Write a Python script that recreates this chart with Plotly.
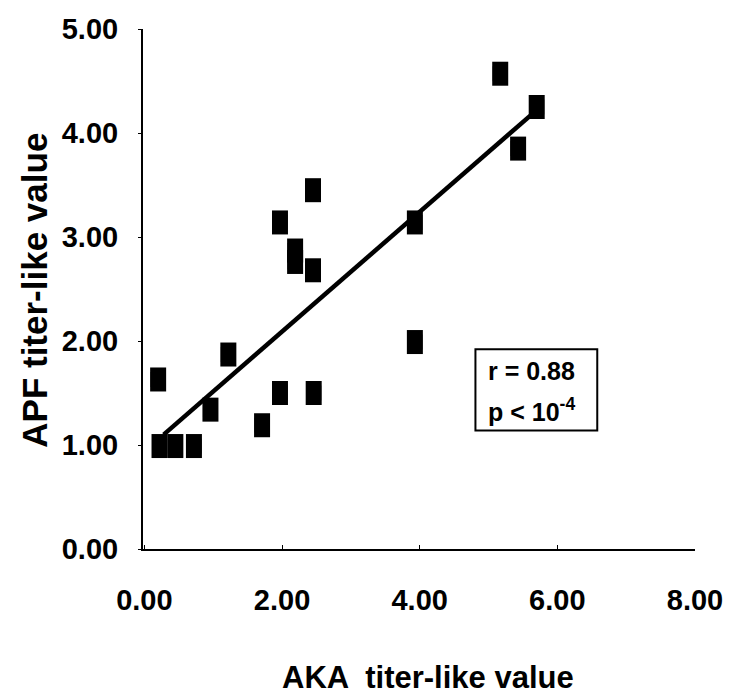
import plotly.graph_objects as go

# Data
aka = [0.20, 0.22, 0.45, 0.72, 0.96, 1.22, 1.71, 1.97, 2.46, 2.45, 1.97, 2.19, 2.19, 2.45, 3.93, 3.93, 5.17, 5.70, 5.43]
apf = [1.63, 0.99, 0.99, 0.99, 1.34, 1.87, 1.19, 1.50, 1.50, 3.45, 3.14, 2.87, 2.76, 2.68, 3.14, 1.99, 4.57, 4.25, 3.85]
fit_x = [0.28, 5.70]
fit_y = [1.10, 4.22]
x_ticks = [0, 2, 4, 6, 8]
x_tick_labels = ["<b>0.00</b>", "<b>2.00</b>", "<b>4.00</b>", "<b>6.00</b>", "<b>8.00</b>"]
y_ticks = [0, 1, 2, 3, 4, 5]
y_tick_labels = ["<b>0.00</b>", "<b>1.00</b>", "<b>2.00</b>", "<b>3.00</b>", "<b>4.00</b>", "<b>5.00</b>"]
stats_lines = ["<b>r = 0.88</b>", "<b>p < 10<sup>-4</sup></b>"]

FONT = "Liberation Sans, Arial, sans-serif"

fig = go.Figure()
fig.add_trace(go.Scatter(x=aka, y=apf, mode="markers",
                         marker=dict(symbol="square", size=15, color="black"),
                         showlegend=False, hoverinfo="x+y"))
fig.add_trace(go.Scatter(x=fit_x, y=fit_y, mode="lines",
                         line=dict(color="black", width=4.5), showlegend=False))

shapes = []
for xv, yv in zip(aka, apf):
    shapes.append(dict(type="rect", xref="x", yref="y", xsizemode="pixel", ysizemode="pixel",
                       xanchor=xv, yanchor=yv, x0=-8, x1=8, y0=-12, y1=12,
                       fillcolor="black", line=dict(width=0)))
# stats box
shapes.append(dict(type="rect", xref="x", yref="y", x0=4.81, x1=6.58, y0=1.14, y1=1.92,
                   line=dict(color="black", width=2), fillcolor="rgba(0,0,0,0)"))

annotations = [
    dict(text=stats_lines[0], x=4.97, y=1.71, xref="x", yref="y", xanchor="left", yanchor="middle",
         showarrow=False, font=dict(family=FONT, size=25, color="black")),
    dict(text=stats_lines[1], x=4.97, y=1.34, xref="x", yref="y", xanchor="left", yanchor="middle",
         showarrow=False, font=dict(family=FONT, size=25, color="black")),
    dict(text="<b>AKA  titer-like value</b>", x=0.516, y=-0.248, xref="paper", yref="paper",
         xanchor="center", yanchor="middle", showarrow=False,
         font=dict(family=FONT, size=31, color="black")),
    dict(text="<b>APF titer-like value</b>", x=-0.198, y=0.498, xref="paper", yref="paper",
         xanchor="center", yanchor="middle", showarrow=False, textangle=-90,
         font=dict(family=FONT, size=35, color="black")),
]

fig.update_layout(
    width=737, height=698,
    margin=dict(l=143, r=42, t=29, b=149),
    paper_bgcolor="white", plot_bgcolor="white",
    shapes=shapes, annotations=annotations,
    font=dict(family=FONT, color="black"),
    xaxis=dict(range=[-0.02, 8], tickvals=x_ticks, ticktext=x_tick_labels,
               showgrid=False, zeroline=False, showline=True, linecolor="black", linewidth=2,
               ticks="inside", ticklen=4, tickcolor="black",
               tickfont=dict(family=FONT, size=29, color="black"), ticklabelstandoff=24),
    yaxis=dict(range=[0, 5], tickvals=y_ticks, ticktext=y_tick_labels,
               showgrid=False, zeroline=False, showline=True, linecolor="black", linewidth=2,
               ticks="outside", ticklen=3, tickcolor="black",
               tickfont=dict(family=FONT, size=29, color="black"), ticklabelstandoff=14),
)

fig.write_html("out.html")
